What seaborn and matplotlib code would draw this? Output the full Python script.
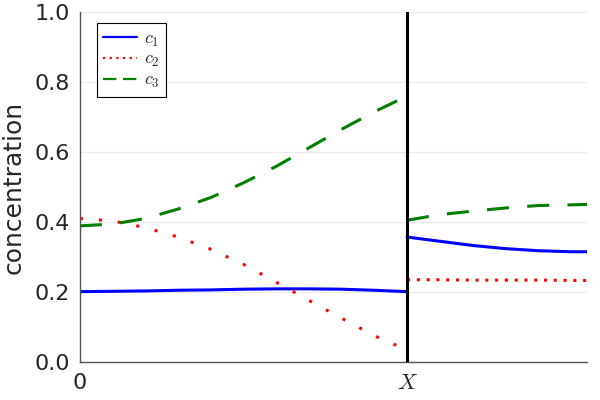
import numpy as np
import pandas as pd
import matplotlib
matplotlib.use('Agg')
import matplotlib.pyplot as plt
import seaborn as sns

# valores (X = 1)
x_left = [0.0, 0.1, 0.2, 0.3, 0.4, 0.5, 0.6, 0.7, 0.8, 0.9, 1.0]
c1_left = [0.201, 0.202, 0.203, 0.205, 0.206, 0.208, 0.209, 0.209, 0.208, 0.205, 0.201]
c2_left = [0.410, 0.403, 0.384, 0.357, 0.322, 0.279, 0.228, 0.176, 0.125, 0.075, 0.034]
c3_left = [0.389, 0.394, 0.410, 0.437, 0.470, 0.512, 0.559, 0.612, 0.665, 0.715, 0.760]

x_right = [1.0, 1.1, 1.2, 1.3, 1.4, 1.5, 1.55]
c1_right = [0.357, 0.345, 0.333, 0.324, 0.318, 0.315, 0.315]
c2_right = [0.235, 0.235, 0.234, 0.234, 0.234, 0.233, 0.233]
c3_right = [0.405, 0.421, 0.431, 0.440, 0.447, 0.449, 0.450]

x_ticks = [0, 1]
x_ticklabels = ['0', '$X$']
y_ticks = [0.0, 0.2, 0.4, 0.6, 0.8, 1.0]

sns.set_style('white')
plt.rcParams['font.family'] = ['DejaVu Sans']
plt.rcParams['mathtext.fontset'] = 'cm'

fig = plt.figure(figsize=(6, 4), dpi=100)
ax = fig.add_axes([80 / 600, 1 - 362 / 400, 507 / 600, 350 / 400])

lw = 2.2
estilos = [
    ('blue', '-', '-', '$c_1$', c1_left, c1_right),
    ('red', (0, (1, 5.2)), (0, (1, 2.2)), '$c_2$', c2_left, c2_right),
    ('green', (0, (7.2, 6.0)), (0, (7.2, 6.0)), '$c_3$', c3_left, c3_right),
]
for cor, ls_l, ls_r, nome, yl, yr in estilos:
    sns.lineplot(x=x_left, y=yl, ax=ax, color=cor, linestyle=ls_l, lw=lw,
                 sort=False, label=nome)
    sns.lineplot(x=x_right, y=yr, ax=ax, color=cor, linestyle=ls_r, lw=lw,
                 sort=False)

ax.axvline(1.0, color='black', lw=2.2, zorder=5)

ax.set_xlim(0, 1.55)
ax.set_ylim(0, 1)
ax.set_xticks(x_ticks)
ax.set_xticklabels(x_ticklabels)
ax.set_yticks(y_ticks)
ax.set_yticklabels([f'{v:.1f}' for v in y_ticks])
ax.get_xticklabels()[1].set_fontsize(18)
ax.yaxis.grid(True, color='#ebebeb', lw=0.8)
ax.set_axisbelow(True)

for lado in ['top', 'right']:
    ax.spines[lado].set_visible(False)
for lado in ['left', 'bottom']:
    ax.spines[lado].set_color('#555555')
    ax.spines[lado].set_linewidth(1.0)
ax.tick_params(direction='in', length=3, color='#555555', labelsize=16)
ax.tick_params(axis='x', pad=8)
ax.tick_params(axis='y', pad=7)
ax.set_ylabel('concentration', fontsize=18)
ax.yaxis.set_label_coords(-0.107, 0.5)
ax.set_xlabel('')

# legenda com as entradas de cada serie
h, l = ax.get_legend_handles_labels()
leg = ax.legend(h[:3], l[:3], loc='upper left', bbox_to_anchor=(0.033, 0.968),
                borderaxespad=0, fontsize=13, fancybox=False, framealpha=1,
                edgecolor='black', handlelength=1.9, labelspacing=0.1,
                borderpad=0.35, handletextpad=0.35)
leg.get_frame().set_linewidth(0.8)
for linha in leg.get_lines():
    linha.set_linewidth(1.6)
leg.get_lines()[1].set_linestyle((0, (1, 2)))
leg.get_lines()[2].set_linestyle((0, (6, 3)))

fig.savefig('out.png', dpi=100)
